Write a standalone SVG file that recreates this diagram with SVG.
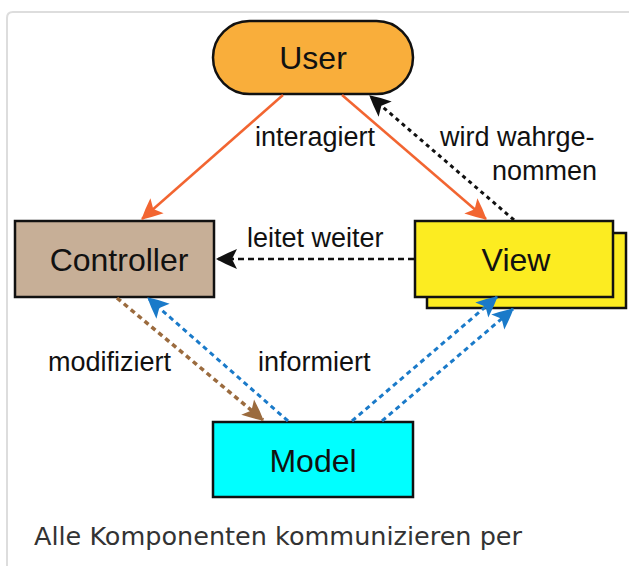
<svg xmlns="http://www.w3.org/2000/svg" width="629" height="566" viewBox="0 0 629 566">
<style>
.box{stroke:#111;stroke-width:2.5}
.nl{font-family:"Liberation Sans",Arial,sans-serif;font-size:32px;fill:#111;text-anchor:middle}
.lb{font-family:"Liberation Sans",Arial,sans-serif;font-size:27px;fill:#111}
.cap{font-family:"DejaVu Sans",sans-serif;font-size:25.5px;fill:#333}
.or{stroke:#F26531;stroke-width:2.5;fill:none}
.bk{stroke:#111;stroke-width:3;fill:none;stroke-dasharray:4 4}
.bk2{stroke:#111;stroke-width:2.5;fill:none;stroke-dasharray:6 4}
.br{stroke:#9B6B3E;stroke-width:3.5;fill:none;stroke-dasharray:5 4}
.bl{stroke:#1A7AC9;stroke-width:3;fill:none;stroke-dasharray:5 4}
</style>
<defs>
<marker id="aOr" viewBox="-24 -13 26 26" markerWidth="26" markerHeight="26" refX="0" refY="0" orient="auto" markerUnits="userSpaceOnUse"><path d="M1,0 Q-8,-5 -20,-10 L-15,0 L-20,10 Q-8,5 1,0Z" fill="#F26531"/></marker>
<marker id="aBk" viewBox="-24 -13 26 26" markerWidth="26" markerHeight="26" refX="0" refY="0" orient="auto" markerUnits="userSpaceOnUse"><path d="M1,0 Q-8,-5 -20,-10 L-15,0 L-20,10 Q-8,5 1,0Z" fill="#111"/></marker>
<marker id="aBr" viewBox="-24 -13 26 26" markerWidth="26" markerHeight="26" refX="0" refY="0" orient="auto" markerUnits="userSpaceOnUse"><path d="M1,0 Q-8,-5 -20,-10 L-15,0 L-20,10 Q-8,5 1,0Z" fill="#9B6B3E"/></marker>
<marker id="aBl" viewBox="-24 -13 26 26" markerWidth="26" markerHeight="26" refX="0" refY="0" orient="auto" markerUnits="userSpaceOnUse"><path d="M1,0 Q-8,-5 -20,-10 L-15,0 L-20,10 Q-8,5 1,0Z" fill="#1A7AC9"/></marker>
</defs>
<rect width="629" height="566" fill="#fff"/>
<path d="M7,566 V18 Q7,12 13,12 H629" fill="none" stroke="#dddddd" stroke-width="2"/>
<g id="user"><rect class="box" x="213" y="21" width="200" height="73" rx="36.5" fill="#F9AE3B"/><text class="nl" x="313" y="69">User</text></g>
<g id="controller"><rect class="box" x="15" y="221" width="199" height="76" fill="#C7AF97"/><text class="nl" x="119" y="271">Controller</text></g>
<g id="view"><rect class="box" x="427" y="233" width="199" height="75" fill="#FCEC21"/><rect class="box" x="415" y="221" width="198" height="76" fill="#FCEC21"/><text class="nl" x="516" y="271">View</text></g>
<g id="model"><rect class="box" x="213" y="422" width="200" height="75" fill="#00FFFF"/><text class="nl" x="313" y="472">Model</text></g>
<g id="connectors">
<line class="or" x1="283" y1="95" x2="142" y2="219" marker-end="url(#aOr)"/>
<line class="or" x1="342" y1="95" x2="486" y2="219" marker-end="url(#aOr)"/>
<line class="bk" x1="514" y1="220" x2="370" y2="96" marker-end="url(#aBk)"/>
<line class="bk2" x1="414" y1="259" x2="217" y2="259" marker-end="url(#aBk)"/>
<line class="br" x1="117" y1="298" x2="263" y2="420" marker-end="url(#aBr)"/>
<line class="bl" x1="288" y1="421" x2="148" y2="298" marker-end="url(#aBl)"/>
<line class="bl" x1="352" y1="421" x2="497" y2="297" marker-end="url(#aBl)"/>
<line class="bl" x1="382" y1="421" x2="513" y2="309" marker-end="url(#aBl)"/>
</g>
<g id="labels">
<text class="lb" x="255" y="146">interagiert</text>
<text class="lb" x="440" y="146">wird wahrge-</text>
<text class="lb" x="492" y="180">nommen</text>
<text class="lb" x="247" y="247">leitet weiter</text>
<text class="lb" x="48" y="371">modifiziert</text>
<text class="lb" x="258" y="371">informiert</text>
</g>
<text class="cap" x="34" y="545">Alle Komponenten kommunizieren per</text>
</svg>
